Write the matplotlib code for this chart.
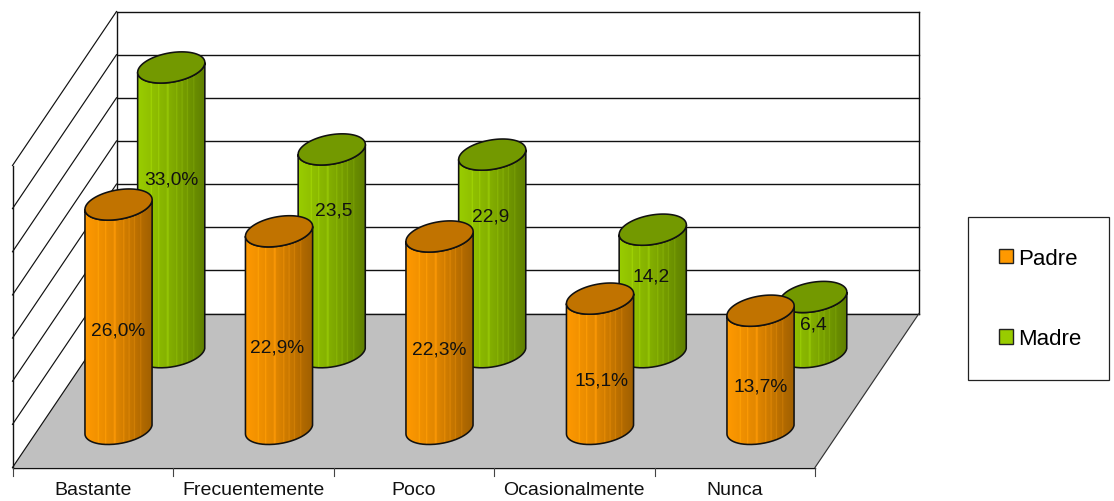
import matplotlib

matplotlib.use("Agg")
import matplotlib.pyplot as plt
import numpy as np
from matplotlib.colors import LinearSegmentedColormap
from matplotlib.patches import PathPatch, Patch, Polygon, Rectangle
from matplotlib.path import Path

plt.rcParams["font.family"] = ["Liberation Sans", "DejaVu Sans"]

categories = ["Bastante", "Frecuentemente", "Poco", "Ocasionalmente", "Nunca"]
padre = [26.0, 22.9, 22.3, 15.1, 13.7]
madre = [33.0, 23.5, 22.9, 14.2, 6.4]
padre_labels = ["26,0%", "22,9%", "22,3%", "15,1%", "13,7%"]
madre_labels = ["33,0%", "23,5", "22,9", "14,2", "6,4"]
# the labels were nudged by hand in the original, so offsets from the bar base
padre_label_rise = [99, 82, 80, 49, 43]
madre_label_rise = [173, 142, 136, 76, 28]
madre_label_dx = [0, 2, -2, -2, 0]
padre_label_dx = [0, -2, 0, 1, 0]

AXIS_MAX = 35
GRID_STEP = 5

# pixel geometry of the fake 3D box
LEFT, RIGHT = 12.5, 815.0
FLOOR_Y = 468.0
DEPTH_X, DEPTH_Y = 104.0, 154.0
WALL_H = 302.0
SCALE = WALL_H / AXIS_MAX
CAT_W = (RIGHT - LEFT) / len(categories)

HALF_W = 31.9
DEPTH_R = 15.6
LINE = "#111111"


def make_cmap(left, mid, right):
    # banded horizontal shading, with pale stripes like the original
    stops = np.linspace(0, 1, 64)
    base = LinearSegmentedColormap.from_list("b", [(0, left), (0.45, mid), (1, right)])
    rgba = base(stops)
    for k in (12, 19, 27, 28, 36, 41, 46, 52):
        rgba[k, :3] = np.minimum(rgba[k, :3] * 1.08 + 0.02, 1)
    return LinearSegmentedColormap.from_list("s", rgba, N=64)


def ellipse_xy(cx, cy, start=0.0, stop=2 * np.pi, n=120):
    t = np.linspace(start, stop, n)
    x = cx + HALF_W * np.cos(t) + DEPTH_R * DEPTH_X / DEPTH_Y * np.sin(t)
    y = cy - DEPTH_R * np.sin(t)
    return x, y


def cylinder(ax, cx, base_y, value, cmap, top_color, zorder):
    top_y = base_y - value * SCALE
    # t of the silhouette points, where the ellipse is widest in x
    t0 = np.arctan2(DEPTH_R * DEPTH_X / DEPTH_Y, HALF_W)
    x_top, y_top = ellipse_xy(cx, top_y, t0 + np.pi, t0 + 2 * np.pi)
    x_bot, y_bot = ellipse_xy(cx, base_y, t0 + np.pi, t0 + 2 * np.pi)
    verts = np.column_stack(
        [np.r_[x_top, x_bot[::-1], x_top[0]], np.r_[y_top, y_bot[::-1], y_top[0]]]
    )
    outline = PathPatch(Path(verts), facecolor="none", edgecolor=LINE, lw=1.15, zorder=zorder + 0.2)
    ax.add_patch(outline)
    grad = ax.imshow(
        np.linspace(0, 1, 256).reshape(1, -1),
        cmap=cmap,
        extent=(verts[:, 0].min(), verts[:, 0].max(), verts[:, 1].max(), verts[:, 1].min()),
        aspect="auto",
        zorder=zorder,
    )
    grad.set_clip_path(outline)
    x, y = ellipse_xy(cx, top_y)
    ax.add_patch(Polygon(np.column_stack([x, y]), closed=True, facecolor=top_color,
                         edgecolor=LINE, lw=1.15, zorder=zorder + 0.3))


def main():
    fig = plt.figure(figsize=(11.14, 5.02), dpi=100)
    ax = fig.add_axes([0, 0, 1, 1])
    ax.axis("off")

    back_y = FLOOR_Y - DEPTH_Y
    back_l, back_r = LEFT + DEPTH_X, RIGHT + DEPTH_X
    top_y = back_y - WALL_H

    ax.add_patch(Polygon([(LEFT, FLOOR_Y), (RIGHT, FLOOR_Y), (back_r, back_y), (back_l, back_y)],
                         closed=True, facecolor="#C0C0C0", edgecolor="none", zorder=1))
    for v in np.arange(0, AXIS_MAX + GRID_STEP, GRID_STEP):
        y = back_y - v * SCALE
        ax.plot([back_l, back_r], [y, y], color=LINE, lw=1.0, zorder=2)
        ax.plot([LEFT, back_l], [y + DEPTH_Y, y], color=LINE, lw=0.85, zorder=2)
    ax.plot([back_l, back_l], [top_y, back_y], color=LINE, lw=1.0, zorder=2)
    ax.plot([back_r, back_r], [top_y, back_y], color=LINE, lw=1.0, zorder=2)
    ax.plot([LEFT, LEFT], [top_y + DEPTH_Y, FLOOR_Y], color=LINE, lw=1.0, zorder=2)
    ax.plot([LEFT, RIGHT], [FLOOR_Y, FLOOR_Y], color=LINE, lw=1.0, zorder=2)
    ax.plot([RIGHT, back_r], [FLOOR_Y, back_y], color="#333333", lw=0.85, zorder=2)

    for i in range(len(categories) + 1):
        tx = LEFT + i * CAT_W
        ax.plot([tx, tx], [FLOOR_Y, FLOOR_Y + 8], color="#444444", lw=0.8, zorder=2)
    for i, name in enumerate(categories):
        ax.text(LEFT + (i + 0.5) * CAT_W, 490.5, name, ha="center", va="center", fontsize=14, color="#111111")

    orange = make_cmap("#FF9900", "#E08600", "#A05F00")
    green = make_cmap("#99CC00", "#84B000", "#5F7F00")

    madre_x = [LEFT + (i + 0.5) * CAT_W + 78.5 for i in range(len(categories))]
    padre_x = [LEFT + (i + 0.5) * CAT_W + 25.8 for i in range(len(categories))]
    madre_base, padre_base = 352.7, 429.4

    for cx, val in zip(madre_x, madre):
        cylinder(ax, cx, madre_base, val, green, "#739900", 3)
    for cx, txt, rise, dx in zip(madre_x, madre_labels, madre_label_rise, madre_label_dx):
        ax.text(cx + dx, madre_base - rise, txt, ha="center", va="center", fontsize=13.8, color="#111111", zorder=4)
    for cx, val in zip(padre_x, padre):
        cylinder(ax, cx, padre_base, val, orange, "#C17300", 5)
    for cx, txt, rise, dx in zip(padre_x, padre_labels, padre_label_rise, padre_label_dx):
        ax.text(cx + dx, padre_base - rise, txt, ha="center", va="center", fontsize=13.8, color="#111111", zorder=6)

    ax.add_patch(Rectangle((968, 217), 141, 163.5, facecolor="white", edgecolor="#222222", lw=0.9, zorder=7))
    handles = [
        Patch(facecolor="#FF9900", edgecolor="#222222", lw=1.0, label="Padre"),
        Patch(facecolor="#99CC00", edgecolor="#222222", lw=1.0, label="Madre"),
    ]
    leg = ax.legend(
        handles=handles,
        loc="center left",
        bbox_to_anchor=(999, 299),
        bbox_transform=ax.transData,
        fontsize=16,
        frameon=False,
        handlelength=0.63,
        handleheight=0.63,
        handletextpad=0.25,
        labelspacing=2.68,
        borderpad=0,
        borderaxespad=0,
    )
    leg.set_zorder(8)

    ax.set_xlim(0, 1114)
    # half a pixel down so lines land on the same rows as the reference
    ax.set_ylim(501.5, -0.5)
    fig.savefig("out.png", dpi=100)


if __name__ == "__main__":
    main()
